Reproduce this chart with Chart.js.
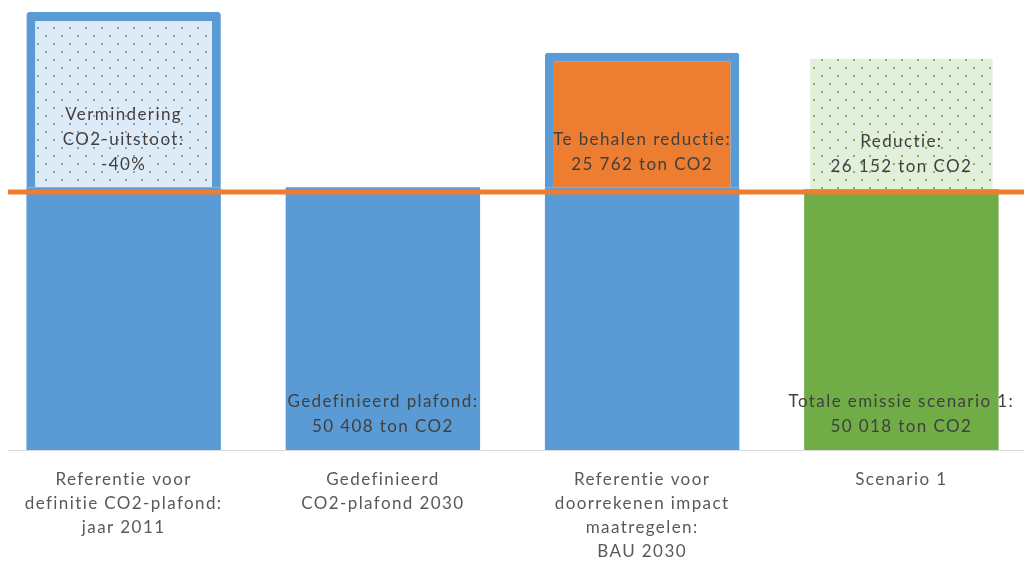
<!DOCTYPE html>
<html lang="nl">
<head>
<meta charset="utf-8">
<script src="https://cdn.jsdelivr.net/npm/chart.js@4.4.1/dist/chart.umd.min.js"></script>
<style>
  html, body { margin: 0; padding: 0; background: #ffffff; overflow: hidden; }
  #wrap { position: absolute; left: -6px; top: 0; width: 1037px; height: 565px; }
</style>
</head>
<body>
<div id="wrap"><canvas id="co2"></canvas></div>
<script>
// Categories (multi-line axis labels)
const categories = [
  ['Referentie voor', 'definitie CO2-plafond:', 'jaar 2011'],
  ['Gedefinieerd', 'CO2-plafond 2030'],
  ['Referentie voor', 'doorrekenen impact', 'maatregelen:', 'BAU 2030'],
  ['Scenario 1']
];

// Lower stack: emission level (ton CO2)
const baseValues = [50408, 50408, 50408, 50018];
// Upper stack: reduction on top of the emission level (ton CO2)
const topValues = [33605, 0, 25762, 26152];
// Horizontal ceiling line (ton CO2)
const plafondLijn = 49500;

// Label texts per segment (null = no label)
const fmt = v => String(v).replace(/\B(?=(\d{3})+(?!\d))/g, ' ');
const baseLabels = [
  null,
  ['Gedefinieerd plafond:', fmt(baseValues[1]) + ' ton CO2'],
  null,
  ['Totale emissie scenario 1:', fmt(baseValues[3]) + ' ton CO2']
];
const topLabels = [
  ['Vermindering', 'CO2-uitstoot:', '-' + Math.round(topValues[0] / (baseValues[0] + topValues[0]) * 100) + '%'],
  null,
  ['Te behalen reductie:', fmt(topValues[2]) + ' ton CO2'],
  ['Reductie:', fmt(topValues[3]) + ' ton CO2']
];

const BLUE = '#5b9bd5', ORANGE = '#ed7d31', GREEN = '#70ad47';
const AXIS_INSET = 14;      // axis and ceiling line start a little right of the plot edge
const LETTER_SPACING = '1.4px';

function dotPattern(bg, dot) {
  const c = document.createElement('canvas');
  c.width = 16; c.height = 16;
  const g = c.getContext('2d');
  g.fillStyle = bg; g.fillRect(0, 0, 16, 16);
  g.fillStyle = dot;
  g.fillRect(3, 3, 2, 2);
  g.fillRect(11, 11, 2, 2);
  return g.createPattern(c, 'repeat');
}
const bluePattern = dotPattern('#deebf7', 'rgba(91,155,213,0.85)');
const greenPattern = dotPattern('#e2efda', 'rgba(112,173,71,0.85)');

const FONT = 'Lato, "Open Sans", sans-serif';

// Slightly wider text spacing for all canvas text
const spacing = {
  id: 'spacing',
  beforeLayout(chart) { chart.ctx.letterSpacing = LETTER_SPACING; },
  beforeDraw(chart) { chart.ctx.letterSpacing = LETTER_SPACING; }
};

const overlays = {
  id: 'overlays',
  afterDatasetsDraw(chart) {
    const ctx = chart.ctx;
    const { left, right, bottom } = chart.chartArea;
    const yScale = chart.scales.y;
    ctx.save();
    // category axis line
    ctx.strokeStyle = '#d9d9d9';
    ctx.lineWidth = 1;
    ctx.beginPath();
    ctx.moveTo(left + AXIS_INSET, bottom + 0.5);
    ctx.lineTo(right + 20, bottom + 0.5);
    ctx.stroke();
    // ceiling line across the plot
    const ly = yScale.getPixelForValue(plafondLijn);
    ctx.strokeStyle = ORANGE;
    ctx.lineWidth = 5;
    ctx.beginPath();
    ctx.moveTo(left + AXIS_INSET, ly);
    ctx.lineTo(right + 20, ly);
    ctx.stroke();

    // segment labels, anchored at the inside base of each segment
    ctx.letterSpacing = LETTER_SPACING;
    ctx.font = '17px ' + FONT;
    ctx.fillStyle = '#404040';
    ctx.textAlign = 'center';
    ctx.textBaseline = 'middle';
    [baseLabels, topLabels].forEach((labels, di) => {
      const meta = chart.getDatasetMeta(di);
      meta.data.forEach((el, i) => {
        const lines = labels[i];
        if (!lines) return;
        const p = el.getProps(['x', 'y', 'base'], true);
        const segBottom = Math.max(p.y, p.base);
        lines.forEach((t, k) => {
          const y = segBottom - 23 - (lines.length - 1 - k) * 25;
          ctx.fillText(t, p.x, y);
        });
      });
    });
    ctx.restore();
  }
};

new Chart(document.getElementById('co2'), {
  type: 'bar',
  data: {
    labels: categories,
    datasets: [
      {
        label: 'Emissie',
        data: baseValues,
        backgroundColor: [BLUE, BLUE, BLUE, GREEN],
        borderWidth: 0,
        stack: 's'
      },
      {
        label: 'Reductie',
        data: topValues,
        backgroundColor: [bluePattern, 'rgba(0,0,0,0)', ORANGE, greenPattern],
        borderColor: [BLUE, BLUE, BLUE, '#ffffff'],
        borderWidth: [9, 0, 9, 6],
        borderSkipped: 'start',
        borderRadius: c => (c.dataIndex === 0 || c.dataIndex === 2) ? 3 : 0,
        stack: 's'
      }
    ]
  },
  options: {
    responsive: true,
    maintainAspectRatio: false,
    animation: false,
    layout: { padding: 0 },
    plugins: {
      legend: { display: false },
      tooltip: { enabled: false }
    },
    datasets: {
      bar: { categoryPercentage: 1.0, barPercentage: 0.75 }
    },
    scales: {
      x: {
        stacked: true,
        grid: { display: false, drawTicks: false },
        border: { display: false },
        ticks: {
          color: '#595959',
          font: { family: FONT, size: 17, lineHeight: 1.42 },
          padding: 17,
          maxRotation: 0,
          autoSkip: false
        },
        afterFit(scale) { scale.height = 115; }
      },
      y: {
        stacked: true,
        display: false,
        min: 0,
        max: 86300
      }
    }
  },
  plugins: [spacing, overlays]
});
</script>
</body>
</html>
